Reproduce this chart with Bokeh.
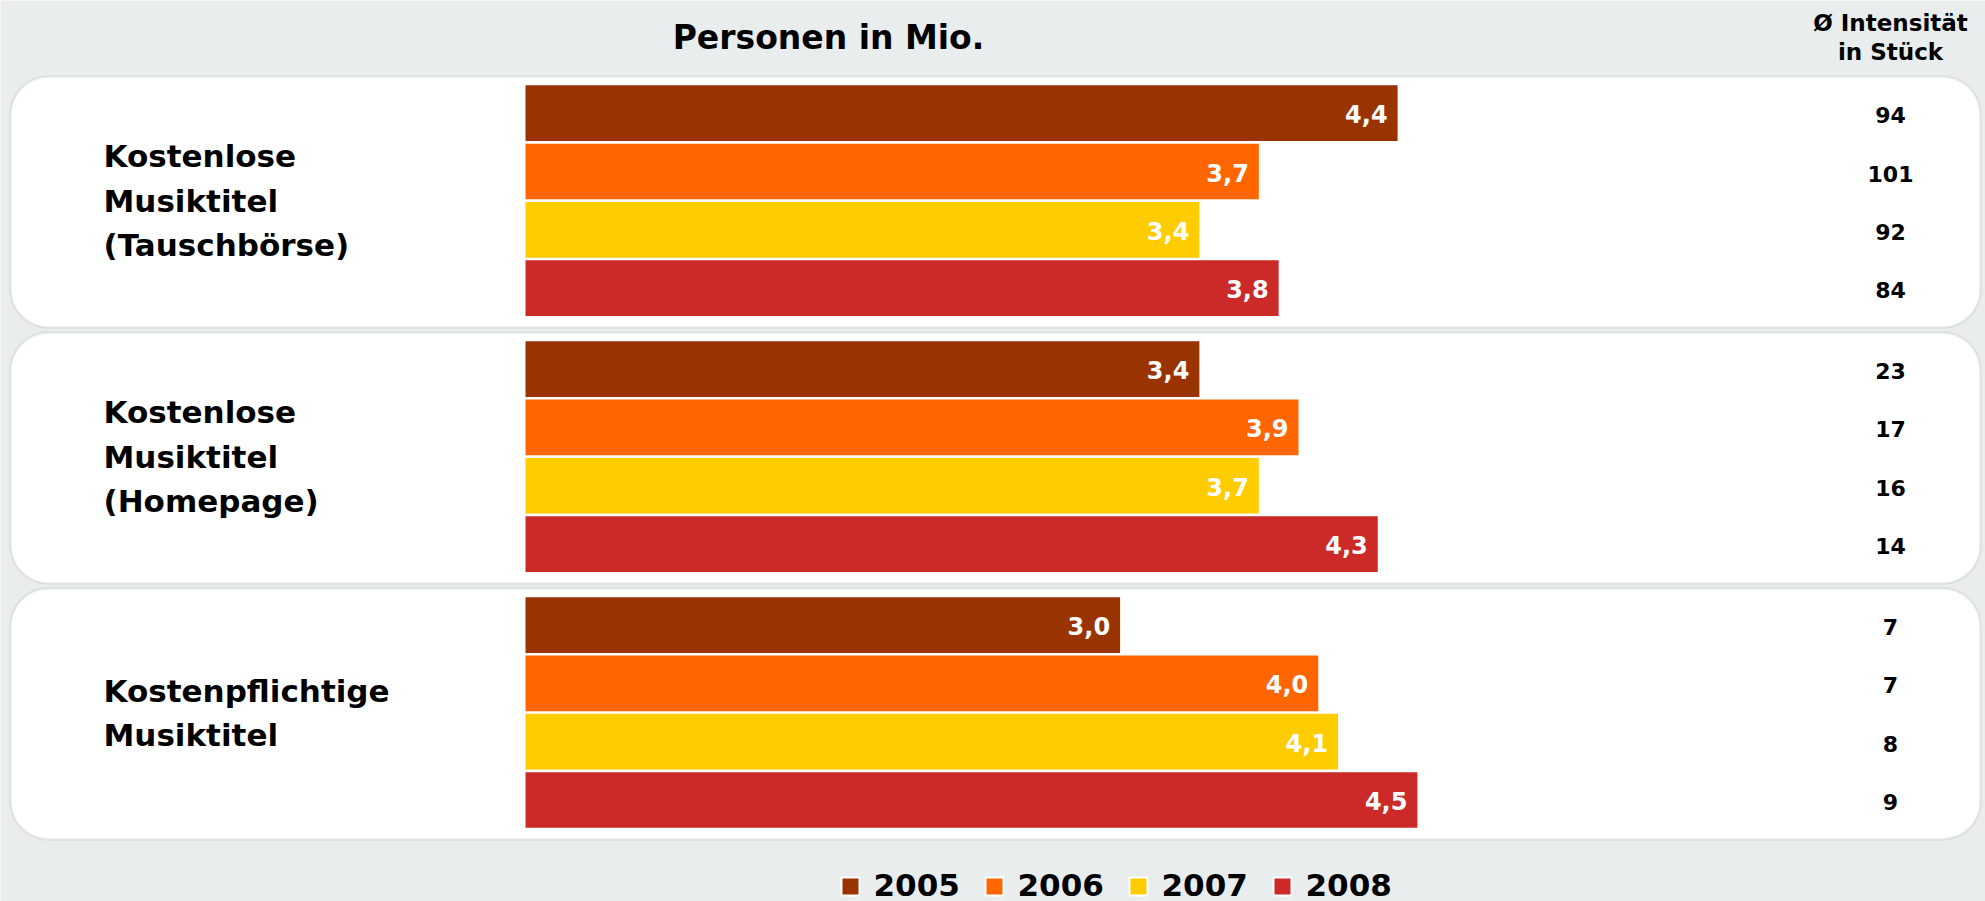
from bokeh.plotting import figure
from bokeh.models import Range1d, BoxAnnotation
from bokeh.core.properties import value
from bokeh.embed import file_html
from bokeh.resources import INLINE

# ---------------- data ----------------
categories = ["Kostenlose\nMusiktitel\n(Tauschbörse)",
              "Kostenlose\nMusiktitel\n(Homepage)",
              "Kostenpflichtige\nMusiktitel"]
years = ["2005", "2006", "2007", "2008"]
persons_2005 = [4.4, 3.4, 3.0]
persons_2006 = [3.7, 3.9, 4.0]
persons_2007 = [3.4, 3.7, 4.1]
persons_2008 = [3.8, 4.3, 4.5]
intensity_2005 = [94, 23, 7]
intensity_2006 = [101, 17, 7]
intensity_2007 = [92, 16, 8]
intensity_2008 = [84, 14, 9]
title_text = "Personen in Mio."
header_lines = ["Ø Intensität", "in Stück"]

persons = [persons_2005, persons_2006, persons_2007, persons_2008]
intensity = [intensity_2005, intensity_2006, intensity_2007, intensity_2008]
colors = ["#993300", "#FF6600", "#FFCC00", "#CC2929"]

# ---------------- layout (page pixels) ----------------
W, H = 1985, 901
PX0, PXU = 525.0, 198.2      # page x of value 0, px per unit
PY0, PYU = 112.7, 58.3       # page y of first bar centre, px per row
GROUP = 4.39
FONT = value("DejaVu Sans")
BG = "#E9EDED"


def dx(px):
    return (px - PX0) / PXU


def dy(py):
    return (py - PY0) / PYU


p = figure(width=W, height=H, output_backend="svg", toolbar_location=None,
           x_range=Range1d(dx(0), dx(W)),
           y_range=Range1d(dy(H), dy(0)),
           min_border=0, background_fill_color=BG, border_fill_color=BG,
           outline_line_color=None, x_axis_location=None, y_axis_location=None)
p.grid.visible = False

# panels
for g in range(len(categories)):
    p.add_layout(BoxAnnotation(left=dx(10), right=dx(1980),
                               top=g * GROUP - 0.63, bottom=g * GROUP + 3.676,
                               fill_color="white", fill_alpha=1.0,
                               line_color="#BDBDBD", line_width=2.5,
                               border_radius=38, level="underlay"))

# bars, value labels, intensities
for i, yr in enumerate(years):
    ys = [g * GROUP + i for g in range(len(categories))]
    vals = persons[i]
    p.hbar(y=ys, left=0, right=vals, height=0.955, fill_color=colors[i], line_color=None)
    p.text(x=vals, y=ys, text=[f"{v:.1f}".replace(".", ",") for v in vals],
           x_offset=-10, y_offset=1, text_align="right", text_baseline="middle",
           text_color="white", text_font=FONT, text_font_style="bold",
           text_font_size="24px")
    p.text(x=[dx(1890)] * len(ys), y=ys, text=[str(v) for v in intensity[i]],
           y_offset=2, text_align="center", text_baseline="middle", text_color="black",
           text_font=FONT, text_font_style="bold", text_font_size="22px")

# category labels
lx, ly, lt = [], [], []
for g, cat in enumerate(categories):
    lines = cat.split("\n")
    n = len(lines)
    centre = g * GROUP + (-0.63 + 3.676) / 2
    for k, line in enumerate(lines):
        lx.append(dx(103))
        ly.append(centre + ((k - (n - 1) / 2) * 44.5 - 1) / PYU)
        lt.append(line)
p.text(x=lx, y=ly, text=lt, text_align="left", text_baseline="middle",
       text_color="black", text_font=FONT, text_font_style="bold", text_font_size="31px")

# title and header
p.text(x=[dx(828)], y=[dy(37)], text=[title_text], text_align="center",
       text_baseline="middle", text_color="black", text_font=FONT,
       text_font_style="bold", text_font_size="33px")
p.text(x=[dx(1890)] * 2, y=[dy(22), dy(51)], text=header_lines, text_align="center",
       text_baseline="middle", text_color="black", text_font=FONT,
       text_font_style="bold", text_font_size="23px")

# legend
sq_x = [dx(850 + k * 144) for k in range(len(years))]
p.scatter(x=sq_x, y=[dy(886)] * len(years), marker="square", size=18,
          fill_color=colors, line_color="white", line_width=2)
p.text(x=[dx(873 + k * 144) for k in range(len(years))], y=[dy(884)] * len(years),
       text=years, text_align="left", text_baseline="middle", text_color="black",
       text_font=FONT, text_font_style="bold", text_font_size="31px")

open("out.html", "w").write(file_html(p, INLINE))
